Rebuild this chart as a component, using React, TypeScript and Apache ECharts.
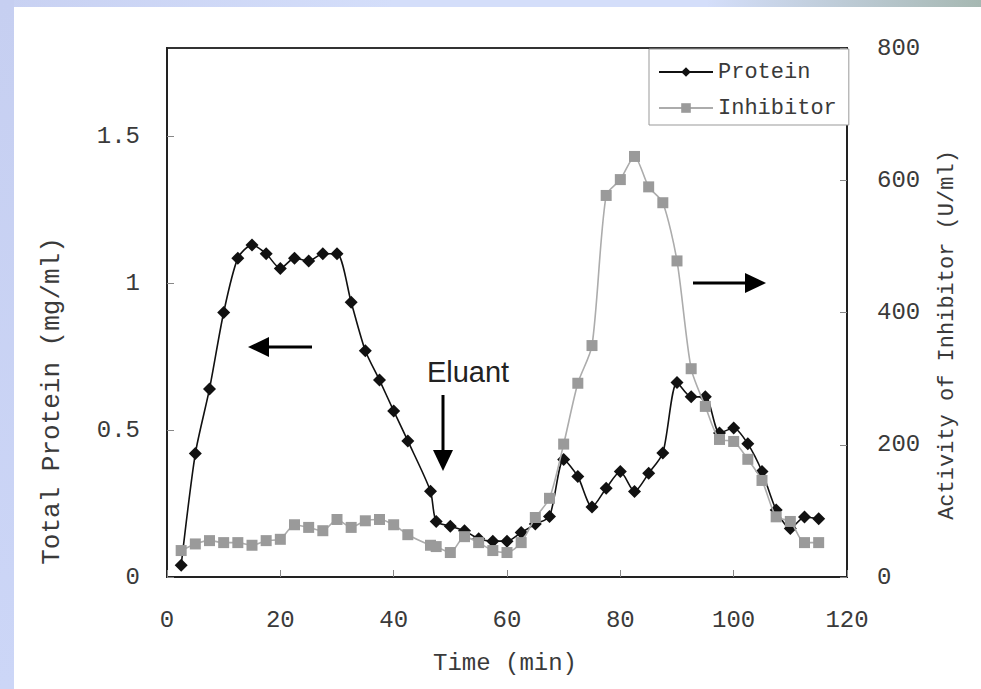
import React, { useEffect, useRef } from "react";
import * as echarts from "echarts";

const times = [2.5, 5, 7.5, 10, 12.5, 15, 17.5, 20, 22.5, 25, 27.5, 30, 32.5, 35, 37.5, 40, 42.5, 46.5, 47.5, 50, 52.5, 55, 57.5, 60, 62.5, 65, 67.5, 70, 72.5, 75, 77.5, 80, 82.5, 85, 87.5, 90, 92.5, 95, 97.5, 100, 102.5, 105, 107.5, 110, 112.5, 115];
const protein = [0.04, 0.42, 0.64, 0.9, 1.085, 1.13, 1.1, 1.05, 1.085, 1.075, 1.1, 1.1, 0.935, 0.77, 0.67, 0.565, 0.463, 0.292, 0.189, 0.173, 0.157, 0.13, 0.122, 0.122, 0.151, 0.18, 0.206, 0.4, 0.342, 0.238, 0.302, 0.359, 0.291, 0.353, 0.422, 0.662, 0.613, 0.613, 0.49, 0.507, 0.453, 0.359, 0.228, 0.165, 0.204, 0.198];
const inhibitor = [40, 50, 55, 52, 52, 48, 55, 57, 79, 75, 70, 87, 75, 85, 87, 79, 64, 48, 46, 37, 61, 52, 40, 37, 52, 90, 119, 201, 293, 350, 577, 601, 636, 590, 566, 478, 315, 258, 208, 205, 178, 146, 91, 84, 52, 52];

const xTitle = "Time (min)";
const leftTitle = "Total Protein (mg/ml)";
const rightTitle = "Activity of Inhibitor (U/ml)";
const annotation = "Eluant";

const MONO = "'Liberation Mono', 'DejaVu Sans Mono', monospace";

export default function App() {
  const ref = useRef<HTMLDivElement>(null);
  useEffect(() => {
    if (!ref.current) return;
    const chart = echarts.init(ref.current, undefined, { renderer: "svg" });
    const arrowColor = "#000";
    chart.setOption({
      animation: false,
      backgroundColor: "#ffffff",
      grid: { left: 167, right: 134, top: 48, bottom: 112, show: true, borderColor: "#333", borderWidth: 2, backgroundColor: "transparent" },
      legend: {
        data: ["Protein", "Inhibitor"],
        orient: "vertical",
        left: 649,
        top: 49,
        padding: [12, 12, 6, 9],
        itemGap: 14,
        itemWidth: 54,
        itemHeight: 12,
        borderColor: "#999",
        borderWidth: 1,
        backgroundColor: "#fff",
        textStyle: { fontFamily: MONO, fontSize: 22, color: "#3a3a3a" },
      },
      xAxis: {
        type: "value",
        min: 0,
        max: 120,
        interval: 20,
        axisLine: { show: true, lineStyle: { color: "#222", width: 2 } },
        axisTick: { show: true, inside: true, length: 7, lineStyle: { color: "#888" } },
        splitLine: { show: false },
        axisLabel: { fontFamily: MONO, fontSize: 24, color: "#3a3a3a", margin: 31 },
      },
      yAxis: [
        {
          type: "value",
          min: 0,
          max: 1.8,
          interval: 0.5,
          axisLine: { show: true, lineStyle: { color: "#222", width: 2 } },
          axisTick: { show: true, inside: true, length: 7, lineStyle: { color: "#888" } },
          splitLine: { show: false },
          axisLabel: { fontFamily: MONO, fontSize: 24, color: "#3a3a3a", margin: 27, showMaxLabel: false },
        },
        {
          type: "value",
          min: 0,
          max: 800,
          interval: 200,
          position: "right",
          axisLine: { show: true, lineStyle: { color: "#222", width: 2 } },
          axisTick: { show: true, inside: true, length: 7, lineStyle: { color: "#888" } },
          splitLine: { show: false },
          axisLabel: { fontFamily: MONO, fontSize: 24, color: "#3a3a3a", margin: 30 },
        },
      ],
      series: [
        {
          name: "Protein",
          type: "line",
          yAxisIndex: 0,
          smooth: 0.25,
          symbol: "diamond",
          symbolSize: 13,
          z: 2,
          lineStyle: { color: "#111", width: 1.6 },
          itemStyle: { color: "#111" },
          data: times.map((t, i) => [t, protein[i]]),
        },
        {
          name: "Inhibitor",
          type: "line",
          yAxisIndex: 1,
          smooth: 0.25,
          symbol: "rect",
          symbolSize: 11,
          z: 3,
          lineStyle: { color: "#acacac", width: 1.6 },
          itemStyle: { color: "#9a9a9a" },
          data: times.map((t, i) => [t, inhibitor[i]]),
        },
      ],
      graphic: [
        { type: "rect", z: -10, silent: true, shape: { x: 0, y: 0, width: 981, height: 7 }, style: { fill: new echarts.graphic.LinearGradient(0, 0, 1, 0, [ { offset: 0, color: "#c8d1f2" }, { offset: 0.4, color: "#d4defa" }, { offset: 0.72, color: "#d4defa" }, { offset: 1, color: "#a6b8b2" } ]) } },
        { type: "rect", z: -10, silent: true, shape: { x: 0, y: 0, width: 14, height: 689 }, style: { fill: new echarts.graphic.LinearGradient(0, 0, 0, 1, [ { offset: 0, color: "#c6cff1" }, { offset: 1, color: "#ccd6f7" } ]) } },
        { type: "text", x: 52, y: 401, rotation: Math.PI / 2, style: { text: leftTitle, fontFamily: MONO, fontSize: 26, fill: "#3a3a3a", align: "center", verticalAlign: "middle" } },
        { type: "text", x: 947, y: 335, rotation: Math.PI / 2, style: { text: rightTitle, fontFamily: MONO, fontSize: 22, fill: "#3a3a3a", align: "center", verticalAlign: "middle" } },
        { type: "text", x: 505, y: 663, style: { text: xTitle, fontFamily: MONO, fontSize: 24, fill: "#3a3a3a", align: "center", verticalAlign: "middle" } },
        { type: "text", x: 468, y: 372, style: { text: annotation, fontFamily: "'Liberation Sans', Arial, sans-serif", fontSize: 29, fill: "#222", align: "center", verticalAlign: "middle" } },
        { type: "line", shape: { x1: 443, y1: 395, x2: 443, y2: 455 }, style: { stroke: arrowColor, lineWidth: 3 } },
        { type: "polygon", shape: { points: [[433, 450], [453, 450], [443, 471]] }, style: { fill: arrowColor } },
        { type: "line", shape: { x1: 264, y1: 347, x2: 312, y2: 347 }, style: { stroke: arrowColor, lineWidth: 3 } },
        { type: "polygon", shape: { points: [[269, 337], [269, 357], [248, 347]] }, style: { fill: arrowColor } },
        { type: "line", shape: { x1: 693, y1: 283, x2: 750, y2: 283 }, style: { stroke: arrowColor, lineWidth: 3 } },
        { type: "polygon", shape: { points: [[745, 273], [745, 293], [766, 283]] }, style: { fill: arrowColor } },
      ],
    });
    return () => chart.dispose();
  }, []);
  return <div ref={ref} style={{ position: "absolute", left: 0, top: 0, width: 981, height: 689 }} />;
}
